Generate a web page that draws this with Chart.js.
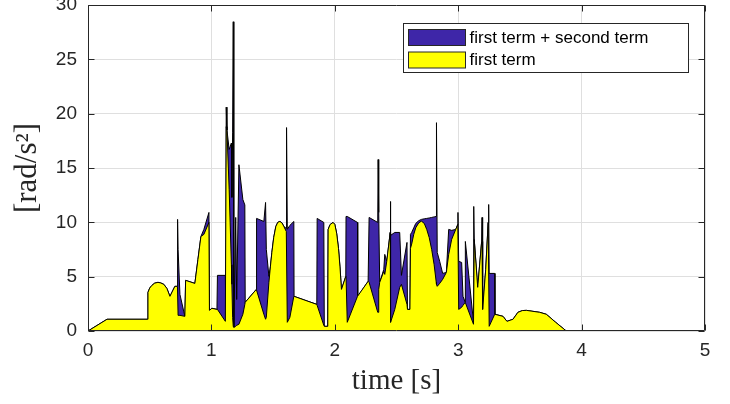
<!DOCTYPE html>
<html>
<head>
<meta charset="utf-8">
<title>first term + second term</title>
<script src="https://cdn.jsdelivr.net/npm/chart.js@4/dist/chart.umd.min.js"></script>
<style>
    html, body { margin: 0; padding: 0; background: #fff; }
    #chart { display: block; }
</style>
</head>
<body>
<canvas id="chart" width="730" height="404"></canvas>
<script>
// Data (time in s, values in rad/s^2)
const time = [
    0, 0.154, 0.483, 0.486, 0.500, 0.518, 0.540, 0.567, 0.590, 0.615,
    0.640, 0.664, 0.704, 0.725, 0.726, 0.730, 0.745, 0.785, 0.791, 0.866,
    0.891, 0.915, 0.939, 0.980, 0.984, 1.004, 1.045, 1.049, 1.113, 1.117,
    1.120, 1.126, 1.144, 1.162, 1.166, 1.172, 1.177, 1.182, 1.197, 1.205,
    1.223, 1.255, 1.271, 1.274, 1.364, 1.366, 1.425, 1.439, 1.445, 1.466,
    1.478, 1.490, 1.505, 1.522, 1.538, 1.555, 1.572, 1.587, 1.607, 1.609,
    1.615, 1.636, 1.668, 1.670, 1.854, 1.857, 1.911, 1.915, 1.943, 1.946,
    1.962, 1.986, 2.000, 2.015, 2.030, 2.042, 2.054, 2.089, 2.091, 2.101,
    2.184, 2.186, 2.270, 2.278, 2.348, 2.351, 2.356, 2.364, 2.397, 2.405,
    2.421, 2.449, 2.451, 2.453, 2.486, 2.526, 2.540, 2.585, 2.589, 2.609,
    2.613, 2.623, 2.640, 2.656, 2.680, 2.702, 2.725, 2.745, 2.765, 2.785,
    2.805, 2.822, 2.824, 2.830, 2.850, 2.874, 2.904, 2.923, 2.947, 2.980,
    2.997, 2.998, 3.004, 3.028, 3.039, 3.057, 3.058, 3.124, 3.126, 3.130,
    3.158, 3.190, 3.193, 3.198, 3.223, 3.243, 3.247, 3.251, 3.296, 3.298,
    3.363, 3.395, 3.444, 3.484, 3.520, 3.552, 3.606, 3.660, 3.714, 3.790,
    3.876, 4.372
];

const firstTerm = [
    0, 1.08, 1.08, 3.56, 3.95, 4.20, 4.40, 4.48, 4.42, 4.29,
    3.90, 3.19, 4.11, 4.11, 4.11, 1.44, 1.44, 1.35, 4.66, 4.38,
    6.59, 8.70, 8.89, 9.99, 1.90, 2.09, 1.99, 1.99, 0.89, 0.89,
    18.8, 18.5, 13.0, 6.10, 4.30, 1.26, 0.43, 0.34, 0.43, 0.52,
    0.62, 1.54, 2.45, 2.64, 3.83, 3.83, 1.54, 1.08, 1.26, 4.48,
    5.90, 7.23, 8.60, 9.62, 10.00, 10.08, 9.95, 9.62, 9.16, 9.16,
    0.80, 1.26, 3.19, 3.19, 2.45, 2.36, 0.52, 0.43, 0.43, 9.35,
    9.80, 9.99, 9.81, 9.00, 7.60, 5.90, 3.83, 5.03, 5.03, 0.80,
    3.19, 3.19, 4.57, 4.48, 1.72, 1.72, 3.83, 4.48, 5.49, 5.21,
    6.41, 9.07, 9.07, 0.80, 1.99, 4.02, 4.29, 2.45, 1.99, 1.99,
    7.60, 8.00, 8.90, 9.50, 9.95, 10.11, 9.90, 9.35, 8.60, 7.51,
    6.10, 4.48, 4.29, 4.11, 4.38, 4.75, 5.39, 7.05, 8.43, 9.35,
    9.81, 9.81, 1.99, 2.18, 2.36, 2.64, 2.64, 0.62, 0.62, 8.43,
    4.02, 8.24, 8.24, 1.99, 5.67, 9.99, 9.99, 0.43, 1.54, 1.54,
    1.35, 0.89, 1.08, 1.72, 1.88, 1.90, 1.81, 1.72, 1.54, 0.80,
    0, 0
];

const totalTerm = [
    0, 1.08, 1.08, 3.56, 3.95, 4.20, 4.40, 4.48, 4.42, 4.29,
    3.90, 3.19, 4.11, 4.11, 10.27, 7.51, 3.37, 1.35, 4.66, 4.38,
    6.59, 8.70, 9.35, 10.91, 1.90, 2.09, 1.99, 5.12, 5.12, 0.89,
    20.6, 18.5, 16.7, 17.3, 12.3, 18.3, 28.46, 0.34, 10.45, 2.90,
    15.3, 12.1, 11.6, 2.64, 3.83, 10.36, 10.08, 11.83, 7.51, 5.03,
    5.90, 7.23, 8.60, 9.62, 10.00, 10.08, 9.95, 9.62, 9.44, 18.72,
    9.35, 9.72, 10.08, 3.19, 2.45, 10.36, 9.99, 0.43, 0.43, 9.35,
    9.80, 9.99, 9.81, 9.00, 7.60, 5.90, 3.83, 5.03, 10.54, 10.54,
    9.99, 3.19, 4.57, 10.45, 9.99, 15.78, 10.91, 4.48, 5.67, 7.05,
    6.41, 9.07, 11.92, 8.80, 9.07, 9.07, 5.12, 8.15, 1.99, 1.99,
    8.89, 9.07, 9.50, 9.90, 10.15, 10.27, 10.32, 10.36, 10.40, 10.45,
    10.50, 10.54, 19.17, 7.23, 6.41, 5.30, 5.39, 9.35, 9.26, 9.35,
    9.81, 10.91, 6.41, 6.31, 3.19, 2.64, 8.24, 0.80, 11.46, 8.43,
    4.02, 8.24, 10.45, 1.99, 5.67, 9.99, 11.64, 5.30, 5.30, 1.54,
    1.35, 0.89, 1.08, 1.72, 1.88, 1.90, 1.81, 1.72, 1.54, 0.80,
    0, 0
];

const seriesLabels = ['first term + second term', 'first term'];
const xTicks = [0, 1, 2, 3, 4, 5];
const yTicks = [0, 5, 10, 15, 20, 25, 30];

const axisColor = '#262626';
const gridColor = '#dfdfdf';
const blueFill = '#3e26a8';
const yellowFill = '#ffff00';

function toPoints(values) {
    return time.map((t, i) => ({ x: t, y: values[i] }));
}

// MATLAB style box with inward ticks
const matlabBox = {
    id: 'matlabBox',
    afterDatasetsDraw(chart) {
        const { ctx, chartArea: a, scales } = chart;
        const len = 6;
        const left = Math.round(a.left) + 0.5;
        const right = Math.round(a.right) - 0.5;
        const top = Math.round(a.top) + 0.5;
        const bottom = Math.round(a.bottom) - 0.5;
        ctx.save();
        ctx.strokeStyle = axisColor;
        ctx.lineWidth = 1;
        ctx.beginPath();
        xTicks.forEach(v => {
            const px = Math.round(scales.x.getPixelForValue(v)) + 0.5;
            ctx.moveTo(px, bottom); ctx.lineTo(px, bottom - len);
            ctx.moveTo(px, top); ctx.lineTo(px, top + len);
        });
        yTicks.forEach(v => {
            const py = Math.round(scales.y.getPixelForValue(v)) + 0.5;
            ctx.moveTo(left, py); ctx.lineTo(left + len, py);
            ctx.moveTo(right, py); ctx.lineTo(right - len, py);
        });
        ctx.rect(left, top, right - left, bottom - top);
        ctx.stroke();
        ctx.restore();
    }
};

// Legend box inside the axes, top right
const boxLegend = {
    id: 'boxLegend',
    afterDraw(chart) {
        const { ctx, chartArea: a } = chart;
        const w = 285, h = 49;
        const bx = Math.round(a.right - 17 - w) + 0.5;
        const by = Math.round(a.top + 18) + 0.5;
        ctx.save();
        ctx.fillStyle = '#fff';
        ctx.fillRect(bx, by, w, h);
        ctx.strokeStyle = axisColor;
        ctx.lineWidth = 1;
        ctx.strokeRect(bx, by, w, h);
        ctx.font = '17px "Liberation Sans", Arial, sans-serif';
        ctx.textBaseline = 'middle';
        chart.data.datasets.forEach((ds, i) => {
            const ry = by + 6 + i * 22.5;
            ctx.fillStyle = ds.backgroundColor;
            ctx.fillRect(bx + 5, ry, 57, 16);
            ctx.strokeStyle = axisColor;
            ctx.strokeRect(bx + 5, ry, 57, 16);
            ctx.fillStyle = '#000';
            ctx.fillText(ds.label, bx + 66, ry + 8.5);
        });
        ctx.restore();
    }
};

const ctx = document.getElementById('chart');

new Chart(ctx, {
    type: 'line',
    data: {
        datasets: [{
            label: seriesLabels[0],
            data: toPoints(totalTerm),
            backgroundColor: blueFill,
            borderColor: '#000',
            borderWidth: 1,
            fill: 'origin',
            order: 2
        }, {
            label: seriesLabels[1],
            data: toPoints(firstTerm),
            backgroundColor: yellowFill,
            borderColor: '#000',
            borderWidth: 1,
            fill: 'origin',
            order: 1
        }]
    },
    options: {
        responsive: false,
        animation: false,
        events: [],
        elements: {
            point: { radius: 0 },
            line: { tension: 0, borderJoinStyle: 'round' }
        },
        layout: {
            padding: { left: 0, right: 25, top: 5, bottom: 0 }
        },
        plugins: {
            legend: { display: false },
            tooltip: { enabled: false }
        },
        scales: {
            x: {
                type: 'linear',
                min: 0,
                max: 5,
                afterBuildTicks: scale => {
                    scale.ticks = xTicks.map(v => ({ value: v }));
                },
                afterFit: scale => {
                    scale.height = 73;
                    scale.paddingLeft = 0;
                    scale.paddingRight = 0;
                },
                grid: { color: gridColor, drawTicks: false },
                border: { display: false },
                ticks: {
                    padding: 8,
                    color: axisColor,
                    font: { family: '"Liberation Sans", Arial, sans-serif', size: 19 }
                },
                title: {
                    display: true,
                    text: 'time [s]',
                    color: axisColor,
                    padding: { top: 0, bottom: 5 },
                    font: { family: '"Liberation Serif", "Times New Roman", serif', size: 29 }
                }
            },
            y: {
                min: 0,
                max: 30,
                afterBuildTicks: scale => {
                    scale.ticks = yTicks.map(v => ({ value: v }));
                },
                afterFit: scale => {
                    scale.width = 88;
                    scale.paddingTop = 0;
                    scale.paddingBottom = 0;
                },
                grid: { color: gridColor, drawTicks: false },
                border: { display: false },
                ticks: {
                    padding: 11,
                    color: axisColor,
                    font: { family: '"Liberation Sans", Arial, sans-serif', size: 19 }
                },
                title: {
                    display: true,
                    text: '[rad/s²]',
                    color: axisColor,
                    padding: { top: 9, bottom: 0 },
                    font: { family: '"Liberation Serif", "Times New Roman", serif', size: 31 }
                }
            }
        }
    },
    plugins: [matlabBox, boxLegend]
});
</script>
</body>
</html>
